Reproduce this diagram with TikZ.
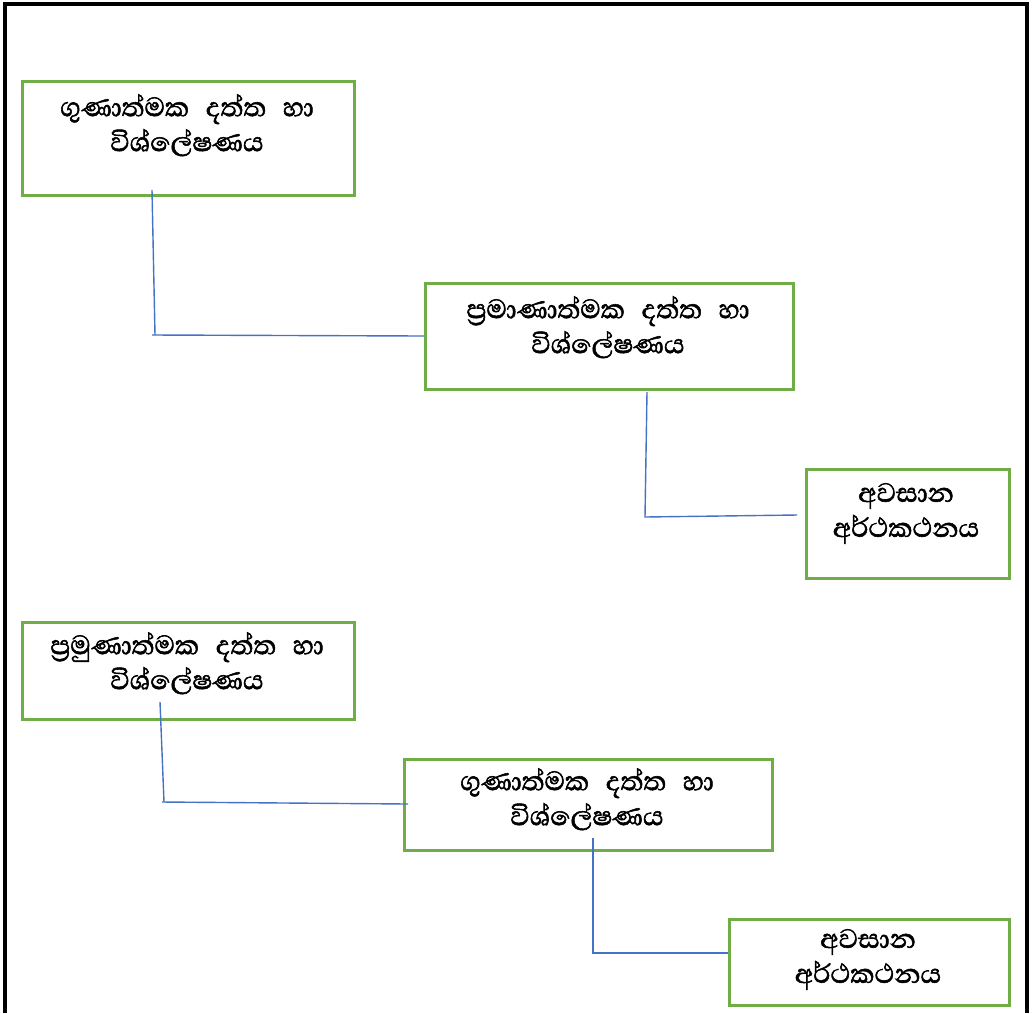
\documentclass[tikz,border=0pt]{standalone}
\usepackage{fontspec}
\newfontfamily\sinhala[Script=Sinhala,FakeBold=1.6]{Abhaya Libre}
\definecolor{boxgreen}{HTML}{70AD47}
\definecolor{linkblue}{HTML}{4472C4}
\begin{document}
\begin{tikzpicture}[x=1pt,y=-1pt,
  stepbox/.style={draw=boxgreen,line width=2.6pt},
  label/.style={anchor=north,align=center,font=\sinhala\fontsize{34}{35}\selectfont,inner sep=0pt},
  link/.style={draw=linkblue,line width=1.4pt}]
\useasboundingbox (0,0) rectangle (1033,1013);
% outer frame, open at the bottom
\draw[line width=4pt] (5,1013) -- (5,4) -- (1027,4) -- (1027,1013);

% upper sequence
\node[stepbox,minimum width=332pt,minimum height=114pt,anchor=north west] (b1) at (21,80) {};
\node[label] (t1) at (187,94) {ගුණාත්මක\hspace{0.3em} දත්ත\hspace{0.3em} හා\\විශ්ලේෂණය};
\node[stepbox,minimum width=368pt,minimum height=106pt,anchor=north west] (b2) at (424,282) {};
\node[label] (t2) at (608,296) {ප්^^^^200dරමාණාත්මක\hspace{0.3em} දත්ත\hspace{0.3em} හා\\විශ්ලේෂණය};
\node[stepbox,minimum width=203pt,minimum height=109pt,anchor=north west] (b3) at (805,468) {};
\node[label] (t3) at (906,483) {අවසාන\\අර්ථකථනය};

% lower sequence
\node[stepbox,minimum width=332pt,minimum height=97pt,anchor=north west] (b4) at (21,621) {};
\node[label] (t4) at (187,632) {ප්^^^^200dරමුණාත්මක\hspace{0.3em} දත්ත\hspace{0.3em} හා\\විශ්ලේෂණය};
\node[stepbox,minimum width=368pt,minimum height=91pt,anchor=north west] (b5) at (403,758) {};
\node[label] (t5) at (587,768) {ගුණාත්මක\hspace{0.3em} දත්ත\hspace{0.3em} හා\\විශ්ලේෂණය};
\node[stepbox,minimum width=280pt,minimum height=86pt,anchor=north west] (b6) at (728,918) {};
\node[label] (t6) at (868,929) {අවසාන\\අර්ථකථනය};

% elbow connectors
\coordinate (s1) at (152,190);
\coordinate (k1) at (155,335);
\draw[link] (s1) -- (k1);
\draw[link] (k1 -| 152,0) -- (b2.west |- 0,336);
\coordinate (s2) at (647,392);
\coordinate (k2) at (645,517);
\draw[link] (s2) -- (k2) -- (797,515);
\coordinate (s3) at (160,702);
\coordinate (k3) at (164,802);
\draw[link] (s3) -- (k3);
\draw[link] (162,802) -- (408,804);
\coordinate (s4) at (593,838);
\coordinate (k4) at (593,953);
\draw[link] (s4) -- (k4) -- (b6.west |- k4);
\end{tikzpicture}
\end{document}
